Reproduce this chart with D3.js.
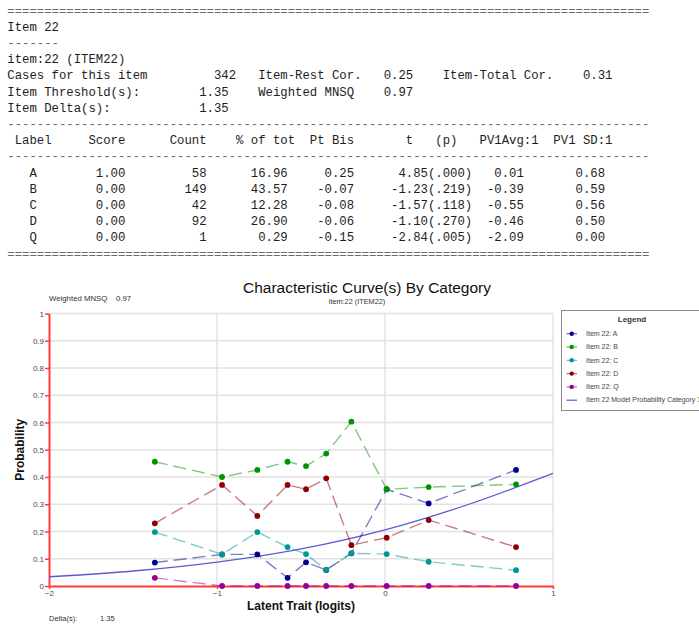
<!DOCTYPE html>
<html>
<head>
<meta charset="utf-8">
<script src="https://cdn.jsdelivr.net/npm/d3@7"></script>
<style>
  body { margin: 0; background: #fff; }
  svg { display: block; }
  .mono { font-family: "Liberation Mono", "DejaVu Sans Mono", monospace; font-size: 12.3px; fill: #1e1e1e; white-space: pre; }
  .sans { font-family: "Liberation Sans", Arial, sans-serif; }
</style>
</head>
<body>
<svg id="chart" width="699" height="624"></svg>
<script>
// ---- Item summary ----
const itemTitle = "Item 22";
const itemCode = "item:22 (ITEM22)";
const casesCount = "342";
const itemRestCor = "0.25";
const itemTotalCor = "0.31";
const thresholdText = "1.35";
const deltaText = "1.35";
const weightedMnsq = "0.97";

// ---- Category statistics ----
const labels = ["A", "B", "C", "D", "Q"];
const scores = ["1.00", "0.00", "0.00", "0.00", "0.00"];
const counts = ["58", "149", "42", "92", "1"];
const pctTot = ["16.96", "43.57", "12.28", "26.90", "0.29"];
const ptBis = ["0.25", "-0.07", "-0.08", "-0.06", "-0.15"];
const tValues = ["4.85", "-1.23", "-1.57", "-1.10", "-2.84"];
const pValues = [".000", ".219", ".118", ".270", ".005"];
const pv1Avg = ["0.01", "-0.39", "-0.55", "-0.46", "-2.09"];
const pv1Sd = ["0.68", "0.59", "0.56", "0.50", "0.00"];

// ---- Observed proportions per ability group (logits) ----
const theta = [-1.37, -0.97, -0.76, -0.58, -0.47, -0.35, -0.20, 0.01, 0.26, 0.78];
const propA = [0.086, 0.116, 0.116, 0.030, 0.087, 0.059, 0.120, 0.355, 0.303, 0.426];
const propB = [0.456, 0.400, 0.426, 0.456, 0.440, 0.486, 0.603, 0.355, 0.363, 0.373];
const propC = [0.198, 0.116, 0.198, 0.143, 0.117, 0.059, 0.120, 0.117, 0.089, 0.058];
const propD = [0.230, 0.371, 0.257, 0.371, 0.355, 0.395, 0.150, 0.177, 0.242, 0.143];
const propQ = [0.030, 0.000, 0.000, 0.000, 0.000, 0.000, 0.000, 0.000, 0.000, 0.000];

// ---- Model probability curve for category 1 ----
const modelTheta = [-2, -1.5, -1, -0.5, 0, 0.5, 1];
const modelProb = [0.034, 0.055, 0.088, 0.136, 0.206, 0.300, 0.413];

// ---- Axis ticks ----
const xTicks = [-2, -1, 0, 1];
const yTicks = [0, 0.1, 0.2, 0.3, 0.4, 0.5, 0.6, 0.7, 0.8, 0.9, 1];

const seriesNames = ["Item 22: A", "Item 22: B", "Item 22: C", "Item 22: D", "Item 22: Q"];
const seriesColors = ["#00008f", "#009400", "#009696", "#8f0000", "#960096"];
const modelName = "Item 22 Model Probability Category 1";
const modelColor = "#5a5ad2";

const svg = d3.select("#chart");

// ================= Fixed-width item analysis report =================
const originX = 7.3;
const lineH = 16.2;
const baseY = 14.5;

// Build a fixed-width line from [column, text, align] fields ("r" = column is the last character)
function fixedLine(fields) {
  let s = "";
  fields.forEach(([col, txt, align]) => {
    const start = align === "r" ? col - txt.length + 1 : col;
    while (s.length < start) s += " ";
    s = s.slice(0, start) + txt;
  });
  return s;
}

const ruleLen = 87;
const reportLines = [
  "=".repeat(ruleLen),
  itemTitle,
  "-".repeat(itemTitle.length),
  itemCode,
  fixedLine([[0, "Cases for this item"], [30, casesCount, "r"], [34, "Item-Rest Cor."], [54, itemRestCor, "r"], [59, "Item-Total Cor."], [81, itemTotalCor, "r"]]),
  fixedLine([[0, "Item Threshold(s):"], [29, thresholdText, "r"], [34, "Weighted MNSQ"], [54, weightedMnsq, "r"]]),
  fixedLine([[0, "Item Delta(s):"], [29, deltaText, "r"]]),
  "-".repeat(ruleLen),
  fixedLine([[1, "Label"], [11, "Score"], [22, "Count"], [31, "% of tot"], [41, "Pt Bis"], [54, "t"], [58, "(p)"], [64, "PV1Avg:1"], [74, "PV1 SD:1"]]),
  "-".repeat(ruleLen)
];
labels.forEach((lab, i) => {
  reportLines.push(fixedLine([
    [3, lab],
    [15, scores[i], "r"],
    [26, counts[i], "r"],
    [37, pctTot[i], "r"],
    [46, ptBis[i], "r"],
    [62, tValues[i] + "(" + pValues[i] + ")", "r"],
    [69, pv1Avg[i], "r"],
    [80, pv1Sd[i], "r"]
  ]));
});
reportLines.push("=".repeat(ruleLen));

svg.append("g")
  .selectAll("text")
  .data(reportLines)
  .join("text")
  .attr("class", "mono")
  .attr("x", originX)
  .attr("y", (d, i) => baseY + i * lineH)
  .style("fill", (d) => /^[=-]+$/.test(d) ? "#6a6a6a" : "#1e1e1e")
  .text(d => d);

// ================= Characteristic curve chart =================
const x = d3.scaleLinear().domain([-2, 1]).range([49, 553]);
const y = d3.scaleLinear().domain([0, 1]).range([586, 313.5]);

const chart = svg.append("g");

// grid
chart.append("g")
  .selectAll("line")
  .data(yTicks.filter(t => t > 0))
  .join("line")
  .attr("x1", x(-2)).attr("x2", x(1))
  .attr("y1", d => y(d)).attr("y2", d => y(d))
  .attr("stroke", "#e2e2e2").attr("stroke-width", 1.4);
chart.append("g")
  .selectAll("line")
  .data(xTicks.filter(t => t > -2))
  .join("line")
  .attr("x1", d => x(d)).attr("x2", d => x(d))
  .attr("y1", y(0)).attr("y2", y(1))
  .attr("stroke", "#e2e2e2").attr("stroke-width", 1.4);

// axes
const yAxis = chart.append("g")
  .attr("transform", `translate(${x(-2)},0)`)
  .call(d3.axisLeft(y).tickValues(yTicks).tickSize(4).tickSizeOuter(0).tickFormat(d3.format("~g")));
const xAxis = chart.append("g")
  .attr("transform", `translate(0,${y(0)})`)
  .call(d3.axisBottom(x).tickValues(xTicks).tickSize(3).tickSizeOuter(0).tickFormat(d3.format("~g")));

[yAxis, xAxis].forEach(ax => {
  ax.select(".domain").attr("stroke", "#ff3b3b").attr("stroke-width", 2);
  ax.selectAll(".tick line").attr("stroke", "#ff3b3b").attr("stroke-width", 1.5);
  ax.selectAll(".tick text")
    .attr("class", "sans")
    .attr("font-size", 8)
    .attr("fill", "#4a4a4a");
});
yAxis.selectAll(".tick text").attr("x", -5).attr("dy", "0.32em");
xAxis.selectAll(".tick text").attr("y", 4).attr("dy", "0.71em");

// model curve
const modelLine = d3.line()
  .x((d, i) => x(modelTheta[i]))
  .y(d => y(d))
  .curve(d3.curveMonotoneX);
chart.append("path")
  .attr("d", modelLine(modelProb))
  .attr("fill", "none")
  .attr("stroke", modelColor)
  .attr("stroke-width", 1.3);

// observed series
const seriesValues = [propA, propB, propC, propD, propQ];
const obsLine = d3.line()
  .x((d, i) => x(theta[i]))
  .y(d => y(d));

seriesValues.forEach((vals, s) => {
  const g = chart.append("g");
  g.append("path")
    .attr("d", obsLine(vals))
    .attr("fill", "none")
    .attr("stroke", seriesColors[s])
    .attr("stroke-opacity", 0.5)
    .attr("stroke-width", 1.4)
    .attr("stroke-dasharray", "13,6");
  g.selectAll("circle")
    .data(vals)
    .join("circle")
    .attr("cx", (d, i) => x(theta[i]))
    .attr("cy", d => y(d))
    .attr("r", 2.9)
    .attr("fill", seriesColors[s]);
});

// titles
svg.append("text")
  .attr("class", "sans")
  .attr("x", 367).attr("y", 293)
  .attr("text-anchor", "middle")
  .attr("font-size", 15.5)
  .attr("fill", "#111")
  .text("Characteristic Curve(s) By Category");
svg.append("text")
  .attr("class", "sans")
  .attr("x", 357).attr("y", 304)
  .attr("text-anchor", "middle")
  .attr("font-size", 7.3)
  .attr("fill", "#333")
  .text(itemCode);
svg.append("text")
  .attr("class", "sans")
  .attr("x", 49).attr("y", 301)
  .attr("font-size", 7.8)
  .attr("fill", "#333")
  .text("Weighted MNSQ");
svg.append("text")
  .attr("class", "sans")
  .attr("x", 116).attr("y", 301)
  .attr("font-size", 7.8)
  .attr("fill", "#333")
  .text(weightedMnsq);
svg.append("text")
  .attr("class", "sans")
  .attr("x", 49).attr("y", 621)
  .attr("font-size", 7.5)
  .attr("fill", "#333")
  .text("Delta(s):");
svg.append("text")
  .attr("class", "sans")
  .attr("x", 100).attr("y", 621)
  .attr("font-size", 7.5)
  .attr("fill", "#333")
  .text(deltaText);

// axis titles
svg.append("text")
  .attr("class", "sans")
  .attr("x", (x(-2) + x(1)) / 2).attr("y", 610)
  .attr("text-anchor", "middle")
  .attr("font-size", 12)
  .attr("font-weight", "bold")
  .attr("fill", "#111")
  .text("Latent Trait (logits)");
svg.append("text")
  .attr("class", "sans")
  .attr("transform", `translate(24,${(y(0) + y(1)) / 2}) rotate(-90)`)
  .attr("text-anchor", "middle")
  .attr("font-size", 12)
  .attr("font-weight", "bold")
  .attr("fill", "#111")
  .text("Probability");

// legend
const legend = svg.append("g").attr("transform", "translate(561,310)");
legend.append("rect")
  .attr("x", 0.5).attr("y", 0.5)
  .attr("width", 160).attr("height", 100)
  .attr("fill", "#fff")
  .attr("stroke", "#8a8a8a");
legend.append("text")
  .attr("class", "sans")
  .attr("x", 71).attr("y", 12)
  .attr("text-anchor", "middle")
  .attr("font-size", 8)
  .attr("font-weight", "bold")
  .attr("fill", "#333")
  .text("Legend");
const legendItems = seriesNames.map((n, i) => ({ name: n, color: seriesColors[i], dot: true }))
  .concat([{ name: modelName, color: modelColor, dot: false }]);
const rows = legend.selectAll("g.row")
  .data(legendItems)
  .join("g")
  .attr("class", "row")
  .attr("transform", (d, i) => `translate(0,${23.7 + i * 13.3})`);
rows.append("line")
  .attr("x1", 5.5).attr("x2", 16)
  .attr("stroke", d => d.color)
  .attr("stroke-opacity", d => d.dot ? 0.6 : 1)
  .attr("stroke-width", 1.2);
rows.filter(d => d.dot).append("circle")
  .attr("cx", 10.7).attr("r", 2.2)
  .attr("fill", d => d.color);
rows.append("text")
  .attr("class", "sans")
  .attr("x", 25).attr("dy", "0.32em")
  .attr("font-size", 7)
  .attr("fill", "#444")
  .text(d => d.name);
</script>
</body>
</html>
